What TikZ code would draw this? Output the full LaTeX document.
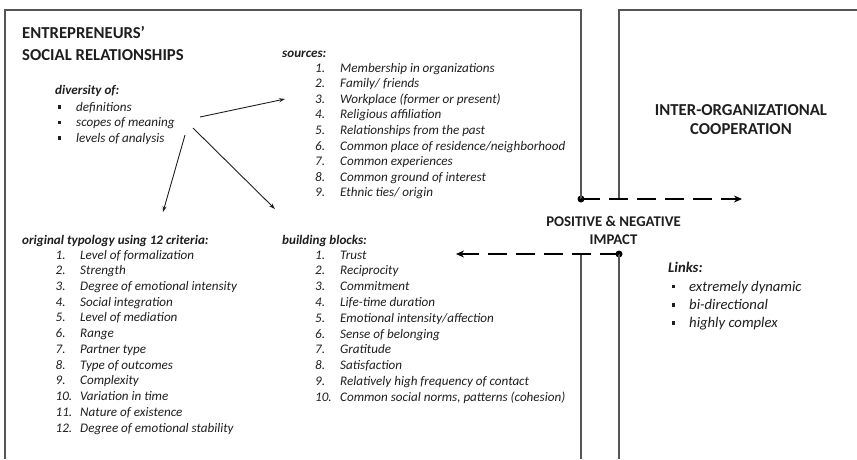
\documentclass[tikz,border=0pt]{standalone}
\usepackage{fontspec}
\setmainfont{Carlito}
\usetikzlibrary{arrows.meta}
\definecolor{txt}{HTML}{1E1E1E}
\definecolor{frame}{HTML}{555555}
\tikzset{
  title/.style={font=\fontsize{16.7}{20}\selectfont\bfseries, text=txt, inner sep=0pt},
  midtitle/.style={font=\fontsize{14.8}{18}\selectfont\bfseries, text=txt, inner sep=0pt},
  head/.style={font=\fontsize{13.1}{16}\selectfont\bfseries\itshape, text=txt, inner sep=0pt, anchor=base west},
  item/.style={font=\fontsize{13.1}{16}\selectfont\itshape, text=txt, inner sep=0pt, anchor=base west},
  bighead/.style={font=\fontsize{14.7}{17}\selectfont\bfseries\itshape, text=txt, inner sep=0pt, anchor=base west},
  bigitem/.style={font=\fontsize{14.7}{17}\selectfont\itshape, text=txt, inner sep=0pt, anchor=base west},
  frameline/.style={draw=frame, line width=1.2pt},
  thinarrow/.style={draw=txt, line width=0.9pt, -{Stealth[length=6pt,width=4pt]}},
  dasharrow/.style={draw=black, line width=2.2pt, dash pattern=on 19pt off 9pt, -{Stealth[length=8pt,width=7pt]}},
  dotmark/.style={circle, fill=black, inner sep=0pt, minimum size=7pt},
  bul/.style={fill=txt, inner sep=0pt, minimum size=3.6pt},
}
\begin{document}
\begin{tikzpicture}[x=1pt,y=-1pt]
\useasboundingbox (0,0) rectangle (857,459);
% frames
\coordinate (lt) at (5,10);
\coordinate (lb) at (5,459);
\coordinate (rtop) at (581,10);
\coordinate (rt2) at (619,10);
\coordinate (rr) at (857,10);
\coordinate (lowL) at (581,459);
\coordinate (lowR) at (619,459);
\node[dotmark] (dotL) at (581,199) {};
\node[dotmark] (dotR) at (619,254) {};
\coordinate (midR) at (619,199);
\coordinate (midL) at (581,254);
\coordinate (arrR) at (742,199);
\coordinate (arrL) at (456,254);
\draw[frameline] (lb) -- (lt) -- (rtop) -- (dotL.center);
\draw[frameline] (midL) -- (lowL);
\draw[frameline] (rr) -- (rt2) -- (midR);
\draw[frameline] (dotR.center) -- (lowR);
\draw[dasharrow] (dotL.center) -- (arrR);
\draw[dasharrow] (dotR.center) -- (arrL);

% titles
\node[title, anchor=base west] (t1) at (22,38.5) {ENTREPRENEURS’};
\node[title, anchor=base west] (t2) at (22,60.5) {SOCIAL RELATIONSHIPS};
\node[title, anchor=base] (io1) at (741,115.5) {INTER-ORGANIZATIONAL};
\node[title, anchor=base] (io2) at (741,134.5) {COOPERATION};
\node[midtitle, anchor=base] (pn1) at (613.5,226) {POSITIVE \& NEGATIVE};
\node[midtitle, anchor=base] (pn2) at (613.5,244) {IMPACT};

% diversity
\node[head] (div) at (55,94) {diversity of:};
\foreach \t [count=\i] in {definitions, scopes of meaning, levels of analysis} {
  \node[bul] (divb\i) at (59.5,{111+15.5*(\i-1)-4}) {};
  \node[item] (div\i) at (76,{111+15.5*(\i-1)}) {\t};
}

% sources
\node[head] (src) at (282,57) {sources:};
\foreach \t [count=\i] in {Membership in organizations, Family/ friends, Workplace (former or present), Religious affiliation, Relationships from the past, Common place of residence/neighborhood, Common experiences, Common ground of interest, Ethnic ties/ origin} {
  \node[item] (srcn\i) at (315,{72+15.6*(\i-1)}) {\i.};
  \node[item] (src\i) at (340,{72+15.6*(\i-1)}) {\t};
}

% typology
\node[head] (typ) at (22,244) {original typology using 12 criteria:};
\foreach \t [count=\i] in {Level of formalization, Strength, Degree of emotional intensity, Social integration, Level of mediation, Range, Partner type, Type of outcomes, Complexity, Variation in time, Nature of existence, Degree of emotional stability} {
  \node[item] (typn\i) at (55.5,{259+15.73*(\i-1)}) {\i.};
  \node[item] (typ\i) at (80,{259+15.73*(\i-1)}) {\t};
}

% building blocks
\node[head] (bb) at (282,244) {building blocks:};
\foreach \t [count=\i] in {Trust, Reciprocity, Commitment, Life-time duration, Emotional intensity/affection, Sense of belonging, Gratitude, Satisfaction, Relatively high frequency of contact, {Common social norms, patterns (cohesion)}} {
  \node[item] (bbn\i) at (315,{259+15.8*(\i-1)}) {\i.};
  \node[item] (bb\i) at (340,{259+15.8*(\i-1)}) {\t};
}

% links
\node[bighead] (lk) at (668,272.5) {Links:};
\foreach \t [count=\i] in {extremely dynamic, bi-directional, highly complex} {
  \node[bul] (lkb\i) at (673.5,{291+18.3*(\i-1)-4.5}) {};
  \node[bigitem] (lk\i) at (689,{291+18.3*(\i-1)}) {\t};
}

% arrows from diversity
\coordinate (a1s) at (200,117);
\coordinate (a1e) at (285,99);
\coordinate (a2s) at (193,128);
\coordinate (a2e) at (275,209);
\coordinate (a3s) at (185,135);
\coordinate (a3e) at (163,212);
\draw[thinarrow] (a1s) -- (a1e);
\draw[thinarrow] (a2s) -- (a2e);
\draw[thinarrow] (a3s) -- (a3e);
\end{tikzpicture}
\end{document}
